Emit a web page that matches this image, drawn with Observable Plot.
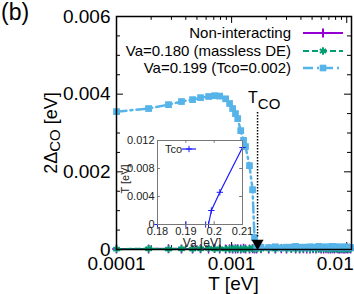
<!DOCTYPE html>
<html>
<head>
<meta charset="utf-8">
<script src="https://cdn.jsdelivr.net/npm/d3@7"></script>
<script src="https://cdn.jsdelivr.net/npm/@observablehq/plot@0.6"></script>
<style>
  body { margin: 0; background: white; }
  #wrap { position: relative; width: 354px; height: 294px; overflow: hidden; background: white; }
  #wrap svg { position: absolute; }
</style>
</head>
<body>
<div id="wrap"></div>
<script>
// ---------- data ----------
const tLow = [0.0001, 0.00019, 0.000283, 0.000367, 0.000458, 0.000537, 0.000631, 0.000711, 0.000787, 0.000887, 0.00096, 0.00102, 0.00108, 0.00113, 0.0012, 0.00127, 0.00132, 0.00143, 0.00152, 0.00158, 0.00165];
const blueLow = [0.00355, 0.00363, 0.00373, 0.00381, 0.00386, 0.00391, 0.00394, 0.00396, 0.00395, 0.00388, 0.00376, 0.00363, 0.0035, 0.00337, 0.00306, 0.00281, 0.00265, 0.00216, 0.00154, 0.00031, 0.00005];
const tTail = [0.0018, 0.0021, 0.0024, 0.0027, 0.003, 0.0033, 0.0036, 0.0039, 0.0042, 0.0045, 0.0048, 0.0051, 0.0054, 0.0057, 0.006, 0.0063, 0.0066, 0.0069, 0.0072, 0.0075, 0.0078, 0.0081, 0.0084, 0.0087, 0.009, 0.0093, 0.0096, 0.0099, 0.0102, 0.0105, 0.0108];
const blueTail = [0.00006, 0.00005, 0.00007, 0.00004, 0.00006, 0.00005, 0.00008, 0.00005, 0.00006, 0.00004, 0.00007, 0.00006, 0.00005, 0.00008, 0.00006, 0.00005, 0.00007, 0.00004, 0.00006, 0.00008, 0.00005, 0.00006, 0.00007, 0.00005, 0.00004, 0.00006, 0.00007, 0.00005, 0.00006, 0.00004, 0.00005];
const greenVals = [0.00001, 0.00002, 0.00001, 0.00002, 0.00001, 0.00002, 0.00003, 0.00001, 0.00002, 0.00001, 0.00002, 0.00001, 0.00003, 0.00002, 0.00001, 0.00002, 0.00001, 0.00002, 0.00003, 0.00001, 0.00002, 0.00001, 0.00002, 0.00001, 0.00003, 0.00002, 0.00001, 0.00002, 0.00001, 0.00002, 0.00003, 0.00001, 0.00002, 0.00001, 0.00002, 0.00001, 0.00003, 0.00002, 0.00001, 0.00002, 0.00001, 0.00002, 0.00003, 0.00001, 0.00002, 0.00001, 0.00002, 0.00001, 0.00003, 0.00002, 0.00001, 0.00002];
const purpleVals = [0.00001, 0.00001, 0.00002, 0.00001, 0.00001, 0.00002, 0.00001, 0.00003, 0.00001, 0.00001, 0.00002, 0.00001, 0.00001, 0.00002, 0.00001, 0.00003, 0.00001, 0.00001, 0.00002, 0.00001, 0.00001, 0.00002, 0.00001, 0.00001, 0.00002, 0.00001, 0.00003, 0.00001, 0.00001, 0.00002, 0.00001, 0.00001, 0.00002, 0.00001, 0.00003, 0.00001, 0.00001, 0.00002, 0.00001, 0.00001, 0.00002, 0.00001, 0.00003, 0.00001, 0.00001, 0.00002, 0.00001, 0.00001, 0.00002, 0.00001, 0.00003, 0.00001];
const tco = 0.00168;

const insetVa = [0.18, 0.19, 0.197, 0.198, 0.199, 0.202, 0.21];
const insetT  = [0, 0, 0, 0, 0.002, 0.0046, 0.011];

const xMajor = [1e-4, 1e-3, 1e-2];
const xMinor = [2e-4, 3e-4, 4e-4, 5e-4, 6e-4, 7e-4, 8e-4, 9e-4, 2e-3, 3e-3, 4e-3, 5e-3, 6e-3, 7e-3, 8e-3, 9e-3];
const yMajor = [0, 0.002, 0.004, 0.006];
const yMinor = [0.0005, 0.001, 0.0015, 0.0025, 0.003, 0.0035, 0.0045, 0.005, 0.0055];
const insetXTicks = [0.18, 0.19, 0.2, 0.21];
const insetYTicks = [0, 0.004, 0.008, 0.012];

const seriesLabels = ["Non-interacting", "Va=0.180 (massless DE)", "Va=0.199 (Tco=0.002)"];
const colors = ["#9400D3", "#009E73", "#56B4E9"];

// ---------- tables ----------
const tAll = tLow.concat(tTail);
const blue = tAll.map((t, i) => ({t, v: i < blueLow.length ? blueLow[i] : blueTail[i - blueLow.length]}));
const green = tAll.map((t, i) => ({t, v: greenVals[i]}));
const purple = tAll.map((t, i) => ({t, v: purpleVals[i]}));
const inset = insetVa.map((va, i) => ({va, T: insetT[i]}));

const FONT = "'Liberation Sans', Arial, sans-serif";
const XMAX = 0.011;
const ytk = 0.00018, ytkm = 0.0001;   // tick lengths in y units
const xtk = 1.15, xtkm = 1.083;        // tick lengths as log factors

const main = Plot.plot({
  width: 354, height: 294,
  marginLeft: 116, marginRight: 3, marginTop: 16, marginBottom: 45,
  x: {type: "log", domain: [1e-4, XMAX]},
  y: {domain: [0, 0.006]},
  style: {fontFamily: FONT, background: "transparent", overflow: "visible", color: "black"},
  marks: [
    Plot.ruleX(xMajor, {y1: 0, y2: ytk, stroke: "black", strokeWidth: 1}),
    Plot.ruleX(xMajor, {y1: 0.006 - ytk, y2: 0.006, stroke: "black", strokeWidth: 1}),
    Plot.ruleX(xMinor, {y1: 0, y2: ytkm, stroke: "black", strokeWidth: 1}),
    Plot.ruleX(xMinor, {y1: 0.006 - ytkm, y2: 0.006, stroke: "black", strokeWidth: 1}),
    Plot.ruleY(yMajor, {x1: 1e-4, x2: 1e-4 * xtk, stroke: "black", strokeWidth: 1}),
    Plot.ruleY(yMajor, {x1: XMAX / xtk, x2: XMAX, stroke: "black", strokeWidth: 1}),
    Plot.ruleY(yMinor, {x1: 1e-4, x2: 1e-4 * xtkm, stroke: "black", strokeWidth: 1}),
    Plot.ruleY(yMinor, {x1: XMAX / xtkm, x2: XMAX, stroke: "black", strokeWidth: 1}),
    Plot.line(purple, {x: "t", y: "v", stroke: colors[0], strokeWidth: 2}),
    Plot.dot(purple, {x: "t", y: "v", symbol: "plus", stroke: colors[0], r: 3, strokeWidth: 1.5}),
    Plot.line(green, {x: "t", y: "v", stroke: colors[1], strokeWidth: 2.2, strokeDasharray: "6,3"}),
    Plot.dot(green, {x: "t", y: "v", symbol: "asterisk", stroke: colors[1], r: 3.5, strokeWidth: 2}),
    Plot.line(blue, {x: "t", y: "v", stroke: colors[2], strokeWidth: 2.5, strokeDasharray: "10,4,2,4"}),
    Plot.dot(blue, {x: "t", y: "v", symbol: "square", fill: colors[2], r: 3.8}),
    Plot.ruleX([tco], {y1: 0.00353, y2: 0.0003, stroke: "black", strokeWidth: 1.5, strokeDasharray: "1.5,1.5"}),
    Plot.dot([tco], {x: d => d, y: 0.00016, symbol: "triangle", rotate: 180, fill: "black", r: 4.5}),
    Plot.frame({stroke: "black", strokeWidth: 1.5}),
    Plot.axisX({ticks: xMajor, tickSize: 0, tickPadding: 7, fontSize: 19, label: null,
      tickFormat: d => d === 1e-4 ? "0.0001" : d === 1e-3 ? "0.001" : "0.01"}),
    Plot.axisY({ticks: yMajor, tickSize: 0, tickPadding: 6, fontSize: 19, label: null,
      tickFormat: d => d === 0 ? "0" : d.toFixed(3)})
  ]
});

const insetPlot = Plot.plot({
  width: 140, height: 115,
  marginLeft: 42, marginRight: 13, marginTop: 5, marginBottom: 26,
  x: {domain: [0.18, 0.21]},
  y: {domain: [0, 0.012]},
  style: {fontFamily: FONT, background: "transparent", overflow: "visible", color: "#222"},
  marks: [
    Plot.frame({fill: "white", stroke: "none"}),
    Plot.ruleX(insetXTicks, {y1: 0, y2: 0.0004, stroke: "#777"}),
    Plot.ruleX(insetXTicks, {y1: 0.0116, y2: 0.012, stroke: "#777"}),
    Plot.ruleY(insetYTicks, {x1: 0.18, x2: 0.181, stroke: "#777"}),
    Plot.ruleY(insetYTicks, {x1: 0.209, x2: 0.21, stroke: "#777"}),
    Plot.line(inset, {x: "va", y: "T", stroke: "#1a1aff", strokeWidth: 1.2}),
    Plot.dot(inset, {x: "va", y: "T", symbol: "plus", stroke: "#1a1aff", r: 2.2, strokeWidth: 1}),
    Plot.frame({stroke: "#777", strokeWidth: 1}),
    Plot.axisX({ticks: insetXTicks, tickSize: 0, tickPadding: 3, fontSize: 11, label: null,
      tickFormat: d => String(+d.toFixed(2))}),
    Plot.axisY({ticks: insetYTicks, tickSize: 0, tickPadding: 3, fontSize: 11, label: null,
      tickFormat: d => d === 0 ? "0" : d.toFixed(3)})
  ]
});

const wrap = document.getElementById("wrap");
main.style.left = "0px"; main.style.top = "0px";
insetPlot.style.left = "115px"; insetPlot.style.top = "135px";
wrap.appendChild(main);
wrap.appendChild(insetPlot);

// ---------- annotations (text, legend) ----------
const svg = d3.select(main);
const xs = main.scale("x");

// keep the last x tick label inside the picture, as in the reference
svg.selectAll("text").filter(function () { return this.textContent === "0.01"; })
  .attr("text-anchor", "end").attr("dx", 7);

svg.append("text").attr("x", 1).attr("y", 20).attr("text-anchor", "start")
  .attr("font-size", 23).attr("font-family", FONT).text("(b)");

const yl = svg.append("text").attr("transform", "translate(57,133) rotate(-90)")
  .attr("text-anchor", "middle").attr("font-size", 18).attr("font-family", FONT);
yl.append("tspan").text("2Δ");
yl.append("tspan").attr("font-size", 15).attr("dy", 3).text("CO");
yl.append("tspan").attr("dy", -3).text(" [eV]");

svg.append("text").attr("x", 233.5).attr("y", 290).attr("text-anchor", "middle")
  .attr("font-size", 19).attr("font-family", FONT).text("T [eV]");

const tcoX = xs.apply(tco);
const tl = svg.append("text").attr("x", tcoX - 9).attr("y", 103).attr("text-anchor", "start")
  .attr("font-size", 16).attr("font-family", FONT);
tl.append("tspan").text("T");
tl.append("tspan").attr("dy", 6).attr("font-size", 15).text("CO");

// legend
const rows = [38, 56, 73];
const dash = ["none", "6,3", "10,4,2,4"];
seriesLabels.forEach((lab, i) => {
  svg.append("text").attr("x", 291).attr("y", rows[i]).attr("text-anchor", "end")
    .attr("font-size", 15).attr("font-family", FONT).text(lab);
  svg.append("line").attr("x1", 303).attr("x2", 343).attr("y1", rows[i] - 5).attr("y2", rows[i] - 5)
    .attr("stroke", colors[i]).attr("stroke-width", i === 2 ? 2.5 : 2).attr("stroke-dasharray", dash[i]);
});
const sym = [d3.symbolPlus, d3.symbolAsterisk, d3.symbolSquare];
const symSize = [Math.PI * 9, Math.PI * 12, Math.PI * 14];
sym.forEach((s, i) => {
  const p = svg.append("path").attr("d", d3.symbol(s, symSize[i])())
    .attr("transform", `translate(323,${rows[i] - 5})`);
  if (i === 2) p.attr("fill", colors[i]);
  else p.attr("fill", "none").attr("stroke", colors[i]).attr("stroke-width", 2);
});

// inset labels
const isvg = d3.select(insetPlot);
isvg.append("text").attr("transform", "translate(14,44) rotate(-90)").attr("text-anchor", "middle")
  .attr("font-size", 11).attr("font-family", FONT).attr("fill", "#222").text("T [eV]");
isvg.append("text").attr("x", 87).attr("y", 112).attr("text-anchor", "middle")
  .attr("font-size", 12).attr("font-family", FONT).attr("fill", "#222").text("Va [eV]");
isvg.append("text").attr("x", 50).attr("y", 18).attr("text-anchor", "start").attr("font-size", 11)
  .attr("font-family", FONT).attr("fill", "#222").text("Tco");
isvg.append("line").attr("x1", 67).attr("x2", 81).attr("y1", 14).attr("y2", 14)
  .attr("stroke", "#1a1aff").attr("stroke-width", 1.2);
isvg.append("path").attr("d", d3.symbol(d3.symbolPlus, Math.PI * 4.8)())
  .attr("transform", "translate(74,14)").attr("fill", "none").attr("stroke", "#1a1aff");
</script>
</body>
</html>
